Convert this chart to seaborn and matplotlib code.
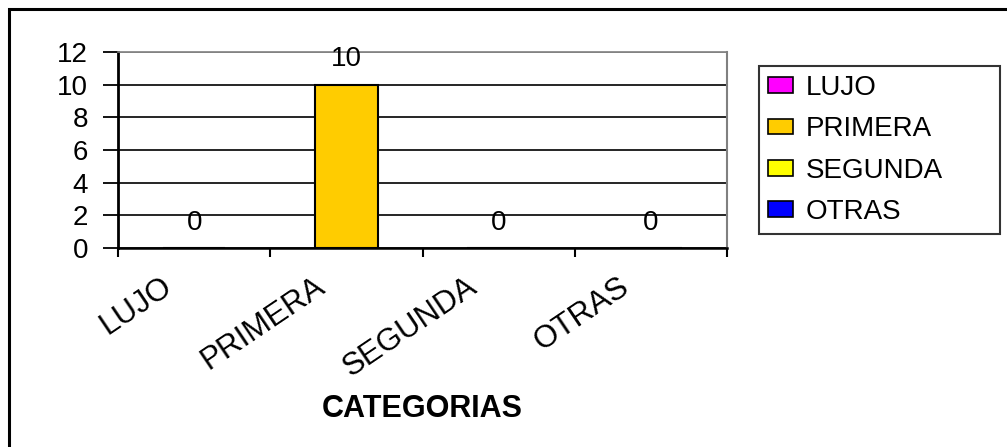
import matplotlib
matplotlib.use("Agg")
import matplotlib.pyplot as plt
import matplotlib.transforms as mtransforms
from matplotlib.patches import Rectangle
import seaborn as sns
import pandas as pd

categories = ["LUJO", "PRIMERA", "SEGUNDA", "OTRAS"]
values = [0, 10, 0, 0]
colors = ["#FF00FF", "#FFCC00", "#FFFF00", "#0000FF"]
yticks = [0, 2, 4, 6, 8, 10, 12]
xlabel = "CATEGORIAS"

sns.set_theme(style="white")
plt.rcParams["font.family"] = ["Liberation Sans", "DejaVu Sans"]
plt.rcParams["text.color"] = "black"
plt.rcParams["axes.labelcolor"] = "black"
plt.rcParams["xtick.color"] = "black"
plt.rcParams["ytick.color"] = "black"

W, H = 1007, 447
fig = plt.figure(figsize=(W / 100, H / 100), dpi=100)
ax = fig.add_axes([118 / W, 1 - 248 / H, (727 - 118) / W, (248 - 52) / H])

df = pd.DataFrame({"cat": categories, "val": values})
sns.barplot(data=df, x="cat", y="val", hue="cat", order=categories,
            hue_order=categories, palette=dict(zip(categories, colors)),
            dodge=False, width=0.41, saturation=1, edgecolor="black",
            linewidth=1.5, legend=True, ax=ax)

for c in ax.containers:
    ax.bar_label(c, padding=9, fontsize=20, color="black")

ax.set_xlim(-0.5, len(categories) - 0.5)
ax.set_ylim(0, 12)
ax.set_yticks(yticks)
ax.set_yticklabels([str(t) for t in yticks], fontsize=20, color="black")
ax.tick_params(axis="y", direction="out", length=10.5, width=1.3,
               color="black", pad=11, left=True)

# category boundaries as major ticks, labels as minor ticks at centres
ax.set_xticks([i - 0.5 for i in range(len(categories) + 1)])
ax.set_xticklabels([])
ax.set_xticks(range(len(categories)), minor=True)
ax.set_xticklabels(categories, minor=True, fontsize=22.5, rotation=34,
                   ha="right", va="top", rotation_mode="anchor", color="black")
ax.tick_params(axis="x", which="major", direction="out", length=6.5,
               width=1.5, color="black", bottom=True)
ax.tick_params(axis="x", which="minor", length=0, pad=17)
offset = mtransforms.ScaledTranslation(-0.33, 0, fig.dpi_scale_trans)
for lab in ax.get_xticklabels(minor=True):
    lab.set_transform(lab.get_transform() + offset)

ax.set_xlabel(xlabel, fontsize=22, fontweight="bold", color="black")
ax.xaxis.set_label_coords(0.5, -0.82)
ax.xaxis.label.set_va("center")
ax.set_ylabel("")

ax.yaxis.grid(True, color="black", linewidth=1.2)
ax.set_axisbelow(True)
for gl, t in zip(ax.yaxis.get_gridlines(), yticks):
    if t == 12:
        gl.set_color("#808080")

ax.spines["left"].set_color("black")
ax.spines["left"].set_linewidth(2.0)
ax.spines["bottom"].set_color("black")
ax.spines["bottom"].set_linewidth(1.8)
ax.spines["top"].set_color("#808080")
ax.spines["top"].set_linewidth(1.2)
ax.spines["right"].set_color("#808080")
ax.spines["right"].set_linewidth(1.5)
for s in ax.spines.values():
    s.set_visible(True)

handles, labels = ax.get_legend_handles_labels()
if ax.get_legend() is not None:
    ax.get_legend().remove()
leg = fig.legend(handles, labels, loc="upper left",
                 bbox_to_anchor=(759 / W, 1 - 66 / H, (1000 - 759) / W, 0.0),
                 mode="expand", borderaxespad=0, fontsize=20, frameon=True,
                 fancybox=False, edgecolor="black", handlelength=0.9,
                 handleheight=0.5, handletextpad=0.45, labelspacing=0.55,
                 borderpad=0.33, labelcolor="black")
leg.get_frame().set_linewidth(1.5)
for p in leg.get_patches():
    p.set_edgecolor("black")
    p.set_linewidth(1.2)

# outer chart border (only top and left visible in the crop)
fig.patches.append(Rectangle((9 / W, -0.2), 1.2, (1 - 9 / H) + 0.2,
                             transform=fig.transFigure, fill=False,
                             edgecolor="black", linewidth=2.2, clip_on=False))

fig.savefig("out.png", dpi=100, facecolor="white")
